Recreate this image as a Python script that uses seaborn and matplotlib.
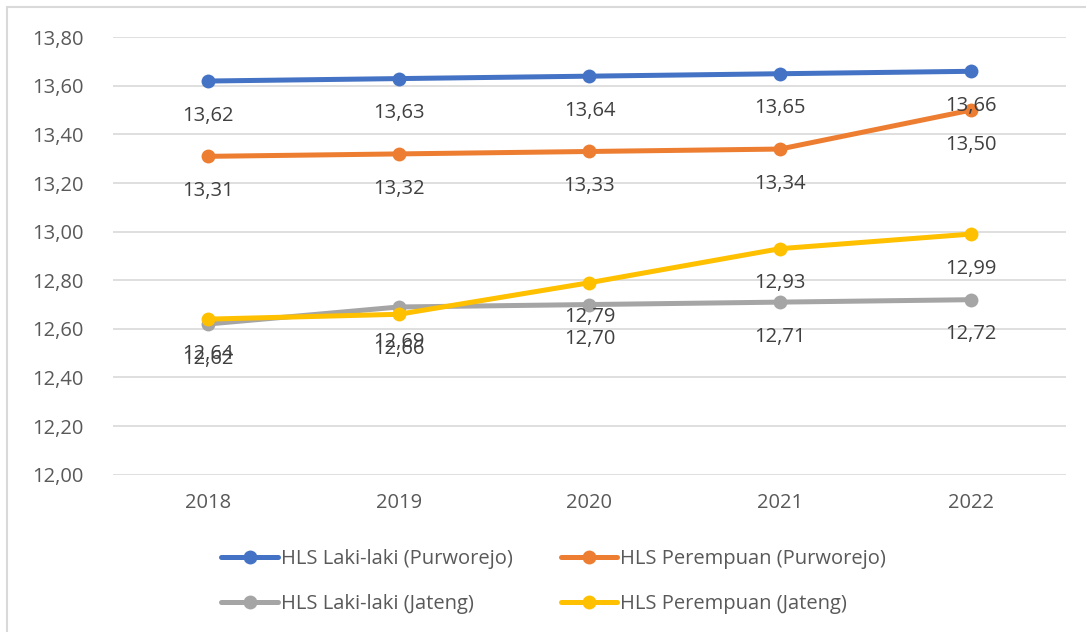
import pandas as pd
import seaborn as sns
import matplotlib.pyplot as plt
from matplotlib.patches import Rectangle

tahun = ["2018", "2019", "2020", "2021", "2022"]
laki_purworejo = [13.62, 13.63, 13.64, 13.65, 13.66]
perempuan_purworejo = [13.31, 13.32, 13.33, 13.34, 13.50]
laki_jateng = [12.62, 12.69, 12.70, 12.71, 12.72]
perempuan_jateng = [12.64, 12.66, 12.79, 12.93, 12.99]

seri = {
    "HLS Laki-laki (Purworejo)": laki_purworejo,
    "HLS Perempuan (Purworejo)": perempuan_purworejo,
    "HLS Laki-laki (Jateng)": laki_jateng,
    "HLS Perempuan (Jateng)": perempuan_jateng,
}
warna = ["#4472C4", "#ED7D31", "#A5A5A5", "#FFC000"]

# Data long-form untuk seaborn
baris = []
for nama, nilai in seri.items():
    for i, v in enumerate(nilai):
        baris.append({"pos": i, "Tahun": tahun[i], "Nilai": v, "Seri": nama})
df = pd.DataFrame(baris)

sns.set_style("white")
plt.rcParams['font.family'] = ['Open Sans', 'DejaVu Sans']

fig = plt.figure(figsize=(10.86, 6.32), dpi=100)
ax = fig.add_axes([0.104, 0.249, 0.8775, 0.692])

sns.lineplot(data=df, x="pos", y="Nilai", hue="Seri", palette=warna,
             marker="o", markersize=10, markeredgewidth=0, linewidth=3.6,
             ax=ax, legend=False)

# Label data di bawah titik
for nama, nilai in seri.items():
    for i, v in enumerate(nilai):
        ax.annotate(f"{v:.2f}".replace(".", ","), (i, v), xytext=(0, -25),
                    textcoords="offset points", ha="center", va="center",
                    fontsize=14.5, color="#404040")

ax.set_xlim(-0.5, 4.5)
ax.set_ylim(12.0, 13.8)
ax.set_yticks([12.0 + 0.2 * k for k in range(10)])
ax.set_yticklabels([f"{12.0 + 0.2 * k:.2f}".replace(".", ",") for k in range(10)])
ax.set_xticks(range(len(tahun)))
ax.set_xticklabels(tahun)
ax.tick_params(axis="both", length=0, labelsize=14.5, labelcolor="#595959", pad=13)
ax.tick_params(axis="y", pad=21)
ax.grid(axis="y", color="#D9D9D9", linewidth=1.2)
ax.set_axisbelow(True)
for s in ax.spines.values():
    s.set_visible(False)
ax.set_xlabel("")
ax.set_ylabel("")

# Legenda dua baris
handles = [plt.Line2D([], [], color=c, marker="o", markersize=10, linewidth=3.6,
                      markeredgewidth=0) for c in warna]
labels = list(seri.keys())
urut = [0, 2, 1, 3]
fig.legend([handles[i] for i in urut], [labels[i] for i in urut], ncol=2,
           loc="center", bbox_to_anchor=(0.51, 0.08), frameon=False,
           fontsize=14.5, labelcolor="#595959", handlelength=2.8,
           handletextpad=0.15, columnspacing=2.4, labelspacing=1.25)

# Bingkai chart
fig.patches.append(Rectangle((7 / 1086, -0.01), 1.02, 1 - 7 / 632 + 0.01,
                             transform=fig.transFigure, fill=False,
                             edgecolor="#D9D9D9", linewidth=1.5))

fig.savefig("out.png", dpi=100)
